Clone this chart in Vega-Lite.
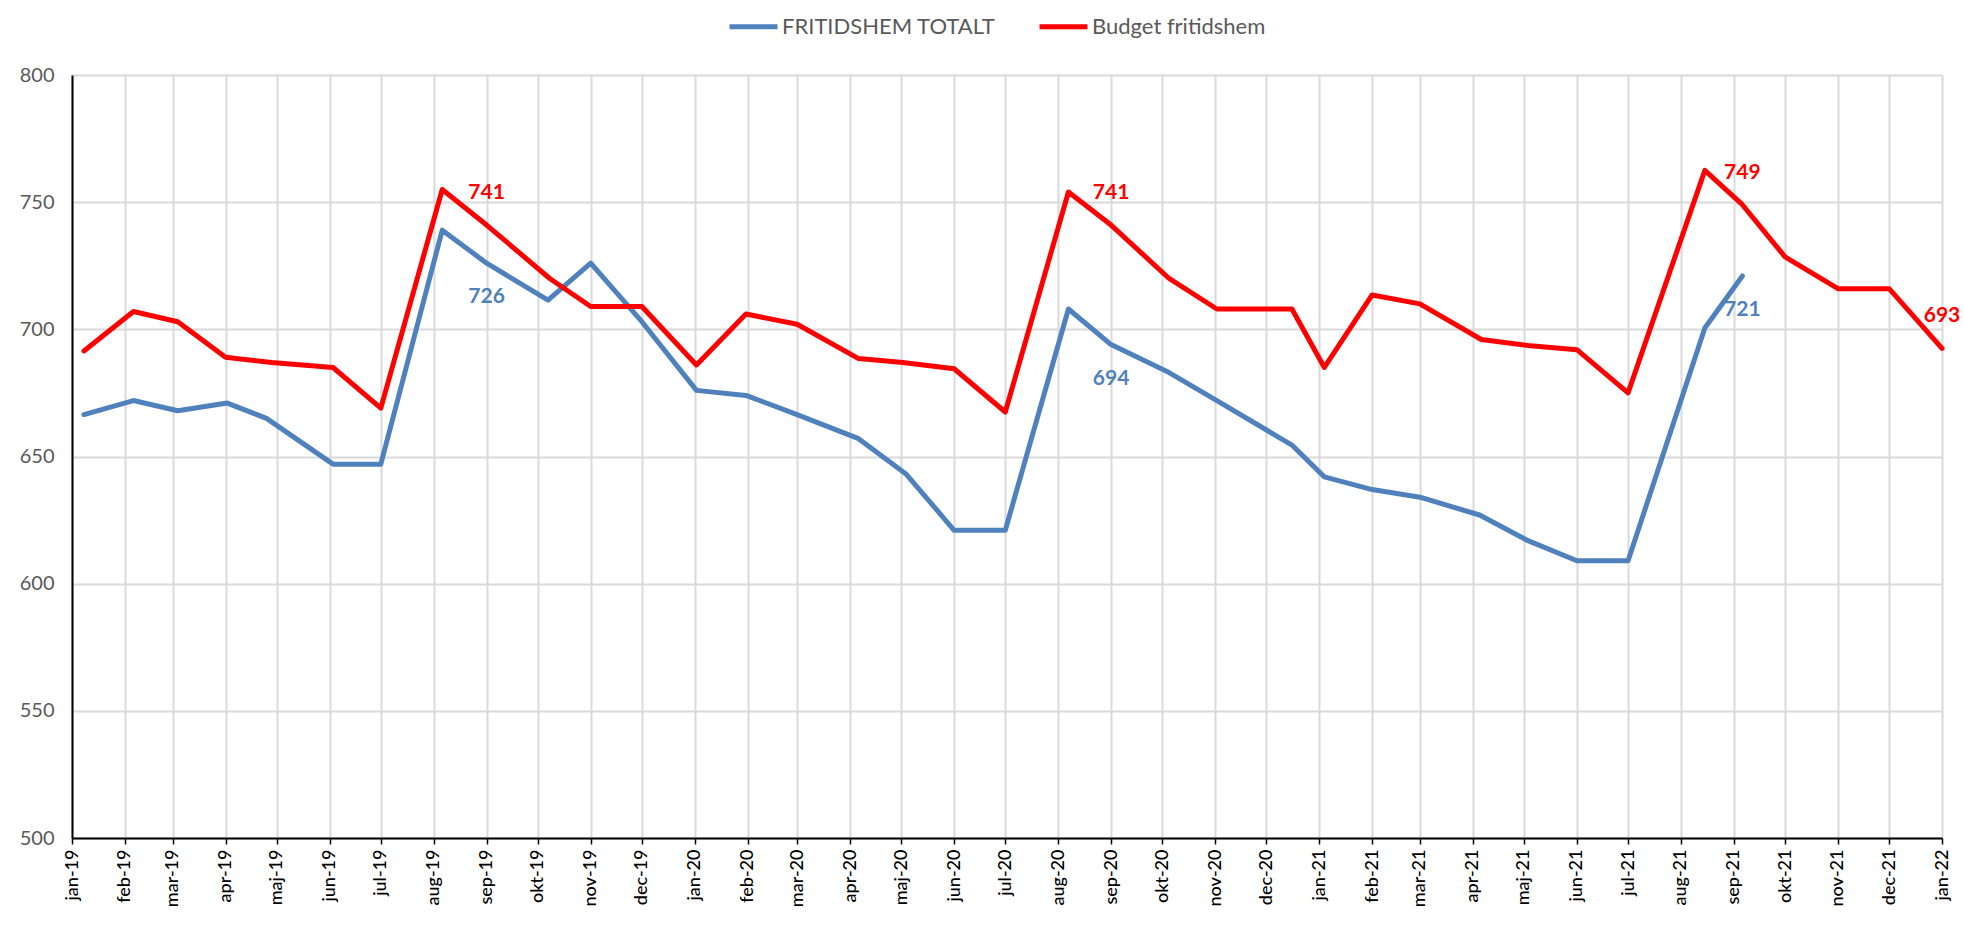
{
  "$schema": "https://vega.github.io/schema/vega-lite/v6.json",
  "width": 1870,
  "height": 763,
  "autosize": {"type": "none"},
  "padding": {"left": 72, "top": 75, "right": 22, "bottom": 91},
  "background": "white",
  "data": {"values": [
    {"d": "2019-01-08", "s": "FRITIDSHEM TOTALT", "v": 666.5},
    {"d": "2019-02-06", "s": "FRITIDSHEM TOTALT", "v": 672},
    {"d": "2019-03-04", "s": "FRITIDSHEM TOTALT", "v": 668},
    {"d": "2019-04-02", "s": "FRITIDSHEM TOTALT", "v": 671},
    {"d": "2019-04-25", "s": "FRITIDSHEM TOTALT", "v": 665},
    {"d": "2019-06-03", "s": "FRITIDSHEM TOTALT", "v": 647},
    {"d": "2019-07-01", "s": "FRITIDSHEM TOTALT", "v": 647},
    {"d": "2019-08-06", "s": "FRITIDSHEM TOTALT", "v": 739},
    {"d": "2019-09-01", "s": "FRITIDSHEM TOTALT", "v": 726, "l": "726"},
    {"d": "2019-10-07", "s": "FRITIDSHEM TOTALT", "v": 711.5},
    {"d": "2019-11-01", "s": "FRITIDSHEM TOTALT", "v": 726},
    {"d": "2019-12-01", "s": "FRITIDSHEM TOTALT", "v": 703},
    {"d": "2020-01-02", "s": "FRITIDSHEM TOTALT", "v": 676},
    {"d": "2020-01-31", "s": "FRITIDSHEM TOTALT", "v": 674},
    {"d": "2020-03-01", "s": "FRITIDSHEM TOTALT", "v": 666.5},
    {"d": "2020-04-06", "s": "FRITIDSHEM TOTALT", "v": 657},
    {"d": "2020-05-04", "s": "FRITIDSHEM TOTALT", "v": 643},
    {"d": "2020-06-01", "s": "FRITIDSHEM TOTALT", "v": 621},
    {"d": "2020-07-01", "s": "FRITIDSHEM TOTALT", "v": 621},
    {"d": "2020-08-07", "s": "FRITIDSHEM TOTALT", "v": 708},
    {"d": "2020-09-01", "s": "FRITIDSHEM TOTALT", "v": 694, "l": "694"},
    {"d": "2020-10-05", "s": "FRITIDSHEM TOTALT", "v": 683},
    {"d": "2020-11-02", "s": "FRITIDSHEM TOTALT", "v": 672},
    {"d": "2020-12-16", "s": "FRITIDSHEM TOTALT", "v": 654.5},
    {"d": "2021-01-04", "s": "FRITIDSHEM TOTALT", "v": 642},
    {"d": "2021-02-01", "s": "FRITIDSHEM TOTALT", "v": 637},
    {"d": "2021-03-01", "s": "FRITIDSHEM TOTALT", "v": 634},
    {"d": "2021-04-05", "s": "FRITIDSHEM TOTALT", "v": 627},
    {"d": "2021-05-03", "s": "FRITIDSHEM TOTALT", "v": 617},
    {"d": "2021-06-01", "s": "FRITIDSHEM TOTALT", "v": 609},
    {"d": "2021-07-01", "s": "FRITIDSHEM TOTALT", "v": 609},
    {"d": "2021-08-15", "s": "FRITIDSHEM TOTALT", "v": 700.5},
    {"d": "2021-09-06", "s": "FRITIDSHEM TOTALT", "v": 721, "l": "721"},
    {"d": "2019-01-08", "s": "Budget fritidshem", "v": 691.5},
    {"d": "2019-02-06", "s": "Budget fritidshem", "v": 707},
    {"d": "2019-03-04", "s": "Budget fritidshem", "v": 703},
    {"d": "2019-04-01", "s": "Budget fritidshem", "v": 689},
    {"d": "2019-04-28", "s": "Budget fritidshem", "v": 687},
    {"d": "2019-06-03", "s": "Budget fritidshem", "v": 685},
    {"d": "2019-07-01", "s": "Budget fritidshem", "v": 669},
    {"d": "2019-08-06", "s": "Budget fritidshem", "v": 755},
    {"d": "2019-09-01", "s": "Budget fritidshem", "v": 741, "l": "741"},
    {"d": "2019-10-08", "s": "Budget fritidshem", "v": 720},
    {"d": "2019-11-01", "s": "Budget fritidshem", "v": 709},
    {"d": "2019-12-01", "s": "Budget fritidshem", "v": 709},
    {"d": "2020-01-02", "s": "Budget fritidshem", "v": 686},
    {"d": "2020-01-31", "s": "Budget fritidshem", "v": 706},
    {"d": "2020-03-01", "s": "Budget fritidshem", "v": 702},
    {"d": "2020-04-06", "s": "Budget fritidshem", "v": 688.5},
    {"d": "2020-05-02", "s": "Budget fritidshem", "v": 687},
    {"d": "2020-06-01", "s": "Budget fritidshem", "v": 684.5},
    {"d": "2020-07-01", "s": "Budget fritidshem", "v": 667.5},
    {"d": "2020-08-07", "s": "Budget fritidshem", "v": 754},
    {"d": "2020-09-01", "s": "Budget fritidshem", "v": 741, "l": "741"},
    {"d": "2020-10-05", "s": "Budget fritidshem", "v": 720},
    {"d": "2020-11-02", "s": "Budget fritidshem", "v": 708},
    {"d": "2020-12-16", "s": "Budget fritidshem", "v": 708},
    {"d": "2021-01-04", "s": "Budget fritidshem", "v": 685},
    {"d": "2021-02-01", "s": "Budget fritidshem", "v": 713.5},
    {"d": "2021-03-01", "s": "Budget fritidshem", "v": 710},
    {"d": "2021-04-06", "s": "Budget fritidshem", "v": 696},
    {"d": "2021-05-05", "s": "Budget fritidshem", "v": 693.5},
    {"d": "2021-06-01", "s": "Budget fritidshem", "v": 692},
    {"d": "2021-07-01", "s": "Budget fritidshem", "v": 675},
    {"d": "2021-08-15", "s": "Budget fritidshem", "v": 762.5},
    {"d": "2021-09-06", "s": "Budget fritidshem", "v": 749, "l": "749"},
    {"d": "2021-10-01", "s": "Budget fritidshem", "v": 728.5},
    {"d": "2021-11-01", "s": "Budget fritidshem", "v": 716},
    {"d": "2021-12-01", "s": "Budget fritidshem", "v": 716},
    {"d": "2022-01-01", "s": "Budget fritidshem", "v": 692.5, "l": "693"}
  ]},
  "encoding": {
    "x": {
      "field": "d", "type": "temporal",
      "scale": {"type": "utc", "domain": [{"year": 2019, "month": 1, "date": 1, "utc": true}, {"year": 2022, "month": 1, "date": 1, "utc": true}]},
      "axis": {
        "title": null,
        "tickCount": {"interval": "month", "step": 1},
        "labelExpr": "['jan','feb','mar','apr','maj','jun','jul','aug','sep','okt','nov','dec'][utcmonth(datum.value)] + '-' + utcFormat(datum.value, '%y')",
        "labelAngle": -90,
        "labelFont": "Lato",
        "labelFontSize": 18,
        "labelFontWeight": 500,
        "labelColor": "#000000",
        "labelPadding": 5,
        "labelOverlap": false,
        "labelFlush": false,
        "labelBound": false,
        "tickSize": 6,
        "tickColor": "#000000",
        "tickWidth": 1.5,
        "domainColor": "#000000",
        "domainWidth": 2,
        "grid": true,
        "gridColor": "#d9d9d9",
        "gridWidth": 2
      }
    },
    "y": {
      "field": "v", "type": "quantitative",
      "scale": {"domain": [500, 800], "zero": false, "nice": false},
      "axis": {
        "title": null,
        "values": [500, 550, 600, 650, 700, 750, 800],
        "ticks": false,
        "labelPadding": 18,
        "labelFont": "Lato",
        "labelFontSize": 20,
        "labelColor": "#595959",
        "domainColor": "#000000",
        "domainWidth": 2,
        "grid": true,
        "gridColor": "#d9d9d9",
        "gridWidth": 2
      }
    }
  },
  "layer": [
    {
      "mark": {"type": "line", "strokeWidth": 5, "strokeJoin": "round", "strokeCap": "round"},
      "encoding": {
        "color": {
          "field": "s", "type": "nominal",
          "scale": {"domain": ["FRITIDSHEM TOTALT", "Budget fritidshem"], "range": ["#4F81BD", "#FF0000"]},
          "legend": {
            "title": null,
            "orient": "none",
            "legendX": 655,
            "legendY": -75,
            "direction": "horizontal",
            "symbolType": "stroke",
            "symbolStrokeWidth": 5,
            "symbolSize": 2300,
            "labelFont": "Lato",
            "labelFontSize": 22,
            "labelColor": "#595959",
            "labelOffset": 2,
            "labelLimit": 0,
            "columnPadding": 33
          }
        }
      }
    },
    {
      "transform": [{"filter": "datum.l && datum.s === 'Budget fritidshem'"}],
      "mark": {"type": "text", "font": "Lato", "fontWeight": "bold", "fontSize": 21, "color": "#FF0000", "dy": -32, "baseline": "middle"},
      "encoding": {"text": {"field": "l"}}
    },
    {
      "transform": [{"filter": "datum.l && datum.s === 'FRITIDSHEM TOTALT'"}],
      "mark": {"type": "text", "font": "Lato", "fontWeight": "bold", "fontSize": 21, "color": "#4F81BD", "dy": 34, "baseline": "middle"},
      "encoding": {"text": {"field": "l"}}
    }
  ],
  "config": {"view": {"stroke": null}}
}
